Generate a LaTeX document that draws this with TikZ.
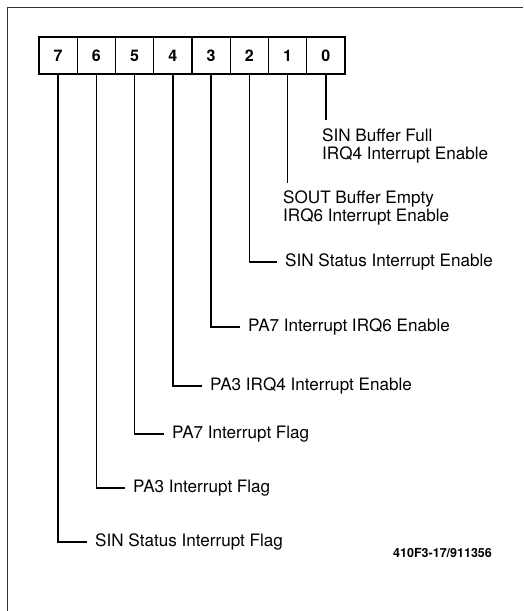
\documentclass[tikz,border=0pt]{standalone}
\usepackage{fontspec}
\setmainfont{TeX Gyre Heros}
\usetikzlibrary{positioning}
\tikzset{
  every node/.style={font=\fontsize{17.1}{18}\selectfont},
  bitbox/.style={draw,line width=1.3pt,minimum width=38.25pt,minimum height=37pt,inner sep=0pt,font=\fontsize{16}{18}\selectfont\bfseries},
  lbl/.style={anchor=west,inner xsep=8pt,inner ysep=0pt,text height=12pt,text depth=3pt},
  lbltwo/.style={anchor=north west,align=left,inner sep=0pt},
  wire/.style={line width=1.3pt},
  frame/.style={line width=1pt,draw=black!80},
}

\begin{document}
\begin{tikzpicture}[x=1pt,y=-1pt]
\useasboundingbox (0,0) rectangle (523,611);
\draw[frame] (7,611) -- (7,7) -- (523,7);

% register bits
\foreach \b in {7,...,0}
  \node[bitbox] (b\b) at ({39+38.25*(7-\b)+19.125},55.5) {\b};

% labels
\node[lbltwo] (l0) at (322,129) {SIN Buffer Full\\IRQ4 Interrupt Enable};
\node[lbltwo] (l1) at (283,191) {SOUT Buffer Empty\\IRQ6 Interrupt Enable};
\node[lbl] (l2) at (277,262) {SIN Status Interrupt Enable};
\node[lbl] (l3) at (240,327) {PA7 Interrupt IRQ6 Enable};
\node[lbl] (l4) at (202,386) {PA3 IRQ4 Interrupt Enable};
\node[lbl] (l5) at (164,434) {PA7 Interrupt Flag};
\node[lbl] (l6) at (125,488) {PA3 Interrupt Flag};
\node[lbl] (l7) at (87,542) {SIN Status Interrupt Flag};

\node[anchor=west,inner sep=0pt,font=\fontsize{12.5}{14}\selectfont\bfseries] (fig) at (393,553) {410F3-17/911356};

% connectors
\draw[wire,shorten >=9pt] (b0.south) -- (b0.south |- l0.north);
\draw[wire,shorten >=8pt] (b1.south) -- (b1.south |- l1.north);
\foreach \b in {2,...,7}
  \draw[wire] (b\b.south) |- (l\b.west);

\end{tikzpicture}
\end{document}
